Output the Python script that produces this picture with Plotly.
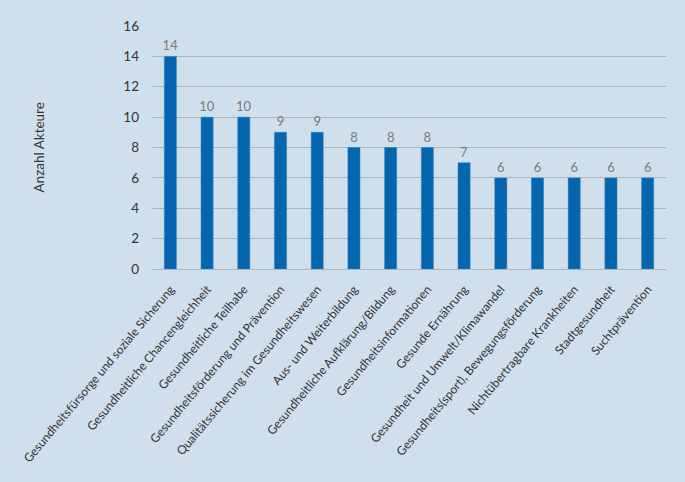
import plotly.graph_objects as go

categories = [
    "Gesundheitsfürsorge und soziale Sicherung",
    "Gesundheitliche Chancengleichheit",
    "Gesundheitliche Teilhabe",
    "Gesundheitsförderung und Prävention",
    "Qualitätssicherung im Gesundheitswesen",
    "Aus- und Weiterbildung",
    "Gesundheitliche Aufklärung/Bildung",
    "Gesundheitsinformationen",
    "Gesunde Ernährung",
    "Gesundheit und Umwelt/Klimawandel",
    "Gesundheits(sport), Bewegungsförderung",
    "Nichtübertragbare Krankheiten",
    "Stadtgesundheit",
    "Suchtprävention",
]
values = [14, 10, 10, 9, 9, 8, 8, 8, 7, 6, 6, 6, 6, 6]
y_ticks = [0, 2, 4, 6, 8, 10, 12, 14, 16]

BG = "#cfe0ec"
FONT = "Lato"

fig = go.Figure(go.Bar(
    x=categories, y=values,
    marker=dict(color="#0566b0", line=dict(color="#2f7fc0", width=0.5)),
    text=[str(v) for v in values], textposition="outside",
    textfont=dict(color="#7a7a7a", size=13, family=FONT),
    constraintext="none",
    cliponaxis=False,
))

W, H = 685, 482
L, R, T, B = 152, 19, 26, 213
fig.update_layout(
    width=W, height=H,
    margin=dict(l=L, r=R, t=T, b=B, autoexpand=False),
    paper_bgcolor=BG, plot_bgcolor=BG,
    bargap=0.67,
    showlegend=False,
    font=dict(family=FONT, color="#333333"),
)
fig.update_xaxes(
    tickangle=-50, tickfont=dict(size=12, color="#333333", family=FONT),
    showgrid=False, showline=False, ticks="", automargin=False,
    ticklabelstandoff=10,
)
fig.update_yaxes(
    range=[0, 16], tickvals=y_ticks, ticktext=[str(v) for v in y_ticks],
    showgrid=True, gridcolor="#aeb5bc", gridwidth=1,
    zeroline=True, zerolinecolor="#aeb5bc", zerolinewidth=1,
    showline=False, ticks="", ticklabelstandoff=12,
    tickfont=dict(size=13.5, color="#333333", family=FONT), automargin=False,
)
pw = W - L - R
fig.add_annotation(
    text="Anzahl Akteure", textangle=-90, showarrow=False,
    xref="paper", yref="paper", x=(38 - L) / pw, y=0.5,
    xanchor="center", yanchor="middle",
    font=dict(size=13.5, color="#333333", family=FONT),
)
fig.write_html(
    "out.html",
    config={"displayModeBar": False},
    post_script="document.body.style.margin='0';document.body.style.background='" + BG + "';",
)
